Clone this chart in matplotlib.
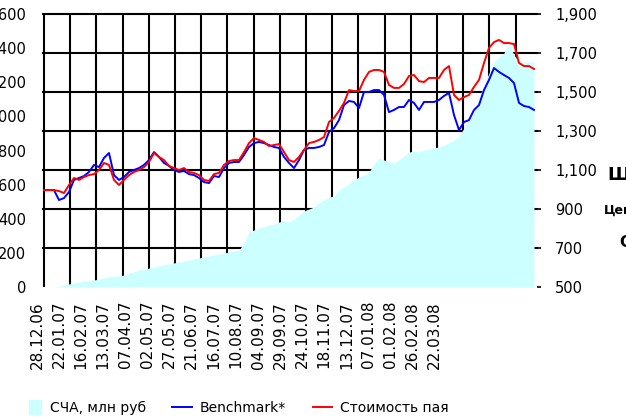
import numpy as np
import matplotlib
matplotlib.use("Agg")
import matplotlib.pyplot as plt
from matplotlib.transforms import blended_transform_factory
from matplotlib.patches import Patch, Rectangle
from matplotlib.lines import Line2D
from matplotlib.legend_handler import HandlerPatch
from matplotlib.ticker import FuncFormatter

# СЧА, млн руб (левая шкала)
nav = [0, 0, 0, 6, 12, 18, 23, 29, 35, 35, 41, 47, 53, 59, 64, 64, 70, 82, 88, 100,
       103, 111, 117, 123, 129, 135, 141, 147, 152, 158, 164, 170, 176, 182, 188, 193,
       199, 205, 211, 217, 258, 322, 334, 346, 352, 363, 369, 381, 387, 381, 399, 422,
       445, 457, 469, 492, 510, 527, 533, 569, 586, 604, 627, 645, 656, 674, 721, 756,
       744, 738, 727, 744, 768, 791, 797, 791, 803, 809, 815, 821, 832, 844, 862, 885,
       932, 979, 1026, 1108, 1184, 1254, 1319, 1348, 1371, 1424, 1360, 1319, 1319, 1319, 1319]

# Benchmark* (правая шкала)
bench = [997, 997, 997, 946, 956, 987, 1049, 1059, 1069, 1090, 1126, 1115, 1162, 1187, 1074,
         1049, 1064, 1090, 1100, 1110, 1126, 1151, 1192, 1167, 1136, 1121, 1100, 1090, 1095,
         1079, 1074, 1059, 1038, 1033, 1069, 1064, 1110, 1136, 1141, 1141, 1177, 1218, 1238,
         1244, 1238, 1228, 1218, 1213, 1167, 1136, 1110, 1151, 1203, 1213, 1213, 1218, 1228,
         1295, 1315, 1356, 1433, 1454, 1449, 1418, 1500, 1500, 1510, 1510, 1485, 1397, 1408,
         1423, 1423, 1459, 1444, 1408, 1449, 1449, 1449, 1459, 1480, 1495, 1382, 1305, 1346,
         1356, 1408, 1433, 1510, 1562, 1623, 1603, 1587, 1572, 1546, 1444, 1428, 1423, 1408]

# Стоимость пая (правая шкала)
price = [997, 997, 997, 992, 982, 1023, 1059, 1049, 1064, 1074, 1079, 1100, 1136, 1126, 1049,
         1023, 1049, 1074, 1090, 1100, 1115, 1141, 1187, 1167, 1151, 1121, 1110, 1100, 1110,
         1090, 1085, 1074, 1049, 1044, 1079, 1085, 1126, 1146, 1151, 1151, 1192, 1238, 1264,
         1254, 1244, 1223, 1228, 1233, 1192, 1151, 1141, 1167, 1203, 1238, 1244, 1254, 1269,
         1346, 1367, 1403, 1444, 1510, 1505, 1505, 1562, 1603, 1613, 1613, 1603, 1536, 1521, 1521,
         1541, 1582, 1587, 1556, 1551, 1572, 1572, 1572, 1613, 1633, 1485, 1459, 1474, 1485,
         1526, 1562, 1649, 1726, 1756, 1767, 1751, 1751, 1746, 1649, 1633, 1633, 1618]

dates = ["28.12.06", "22.01.07", "16.02.07", "13.03.07", "07.04.07", "02.05.07",
         "27.05.07", "21.06.07", "16.07.07", "10.08.07", "04.09.07", "29.09.07",
         "24.10.07", "18.11.07", "13.12.07", "07.01.08", "01.02.08", "26.02.08", "22.03.08"]

left_ticks = [0, 200, 400, 600, 800, 1000, 1200, 1400, 1600]
right_ticks = [500, 700, 900, 1100, 1300, 1500, 1700, 1900]

plt.rcParams['font.family'] = ['DejaVu Sans']
plt.rcParams['font.size'] = 10

fig = plt.figure(figsize=(6.26, 4.19), dpi=100)
ax = fig.add_axes([36 / 626, 1 - 287 / 419, 501 / 626, 273 / 419])
ax2 = ax.twinx()

x = np.arange(len(nav))
ax.set_xlim(-1.6, 98.6)
ax.set_ylim(0, 1600)
ax2.set_ylim(500, 1900)

# сетка: вертикальные линии и горизонтальные по правой шкале, под областью
for gx in np.arange(19) * 5.24:
    ax.axvline(gx, color='black', lw=1.5, zorder=1)
tr = blended_transform_factory(ax.transAxes, ax2.transData)
for gy in right_ticks[1:]:
    ax.plot([0.014, 1], [gy, gy], transform=tr, color='black', lw=1.5, zorder=1, clip_on=False)

ax.fill_between(x, 0, nav, color='#ccffff', lw=0, zorder=2)

ax2.plot(x, bench, color='#0000ff', lw=1.4, zorder=3)
ax2.plot(x, price, color='#ff0000', lw=1.4, zorder=4)

for a in (ax, ax2):
    for s in a.spines.values():
        s.set_visible(False)

ax.set_yticks(left_ticks)
ax.yaxis.set_major_formatter(FuncFormatter(lambda v, p: f"{int(v):,}"))
ax.tick_params(axis='y', length=0, pad=7, labelsize=10.5)

ax2.set_yticks(right_ticks)
ax2.yaxis.set_major_formatter(FuncFormatter(lambda v, p: f"{int(v):,}"))
ax2.tick_params(axis='y', length=3, width=1.2, pad=10, labelsize=10.5)

ax.set_xticks(-1.4 + np.arange(len(dates)) * 4.42)
ax.set_xticklabels(dates, rotation=90, va='top', ha='center')
ax.tick_params(axis='x', length=0, pad=10, labelsize=11)

# обрезанные подписи справа
fig.text(607 / 626, 1 - 175 / 419, "Ш", fontsize=13, fontweight='bold', va='center')
fig.text(604 / 626, 1 - 210 / 419, "Цен", fontsize=9, fontweight='bold', va='center')
fig.text(619 / 626, 1 - 242 / 419, "С", fontsize=11, fontweight='bold', va='center')


def square(legend, orig_handle, xdescent, ydescent, width, height, fontsize):
    return Rectangle((-xdescent + width - 9, -ydescent + height / 2 - 5), 9, 10)


handles = [Patch(color='#ccffff'),
           Line2D([], [], color='#0000ff', lw=1.4),
           Line2D([], [], color='#ff0000', lw=1.4)]
fig.legend(handles, ["СЧА, млн руб", "Benchmark*", "Стоимость пая"],
           loc='center left', bbox_to_anchor=(22 / 626, 1 - 408 / 419), ncol=3,
           frameon=False, handlelength=1.4, handletextpad=0.6, columnspacing=1.9,
           borderaxespad=0, borderpad=0,
           handler_map={Patch: HandlerPatch(patch_func=square)})

fig.savefig("out.png", dpi=100)
